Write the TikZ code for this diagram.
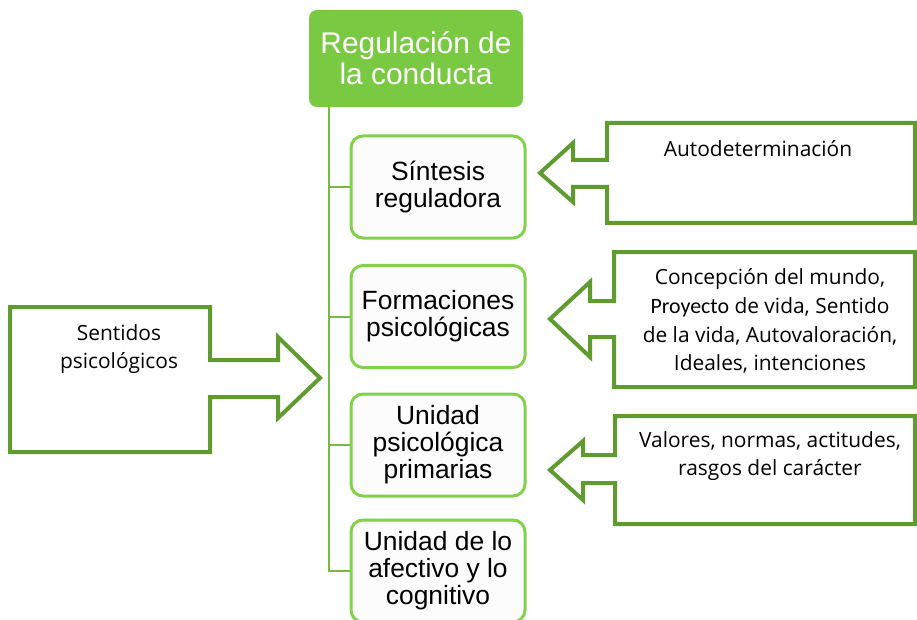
\documentclass[tikz,border=0pt]{standalone}
\usepackage{fontspec}
\setmainfont{Liberation Sans}
\newfontfamily\calloutfont{Open Sans}
\newfontfamily\proyectofont{Carlito}
\usepackage{xcolor}
\definecolor{headgreen}{HTML}{7AC943}
\definecolor{boxgreen}{HTML}{82D14B}
\definecolor{treegreen}{HTML}{78B845}
\definecolor{arrowgreen}{HTML}{5F9B2E}
\definecolor{boxfill}{HTML}{FCFCFC}

\tikzset{
  headbox/.style={fill=headgreen, draw=none, rounded corners=8bp, minimum width=214bp,
    minimum height=97bp, inner sep=0pt, align=center, text=white,
    font=\fontsize{30}{31}\selectfont},
  childbox/.style={fill=boxfill, draw=boxgreen, line width=3bp, rounded corners=12bp,
    minimum width=174bp, minimum height=102bp, inner sep=0pt, align=center,
    font=\fontsize{26.5}{27}\selectfont},
  branch/.style={treegreen, line width=2bp},
  callout/.style={draw=arrowgreen, line width=4bp, fill=white},
  callouttext/.style={align=center, anchor=north, inner sep=0pt,
    font=\calloutfont\fontsize{21}{29}\selectfont}
}

\begin{document}
\begin{tikzpicture}[x=1bp, y=-1bp]

  \useasboundingbox (0,0) rectangle (917,620);

  % ==================== 1. TREE ====================
  \node[headbox] (top) at (416,58.5) {Regulación de\\la conducta};

  \node[childbox] (box1) at (438,187) {Síntesis\\reguladora};
  \node[childbox] (box2) at (438,316.5) {Formaciones\\psicológicas};
  \node[childbox] (box3) at (438,445) {Unidad\\psicológica\\primarias};
  \node[childbox] (box4) at (438,571) {Unidad de lo\\afectivo y lo\\cognitivo};

  % Spine and branches
  \coordinate (spine) at ([xshift=20bp]top.south west);
  \foreach \b in {box1, box2, box3, box4} {
    \draw[branch] (spine) |- (\b.west);
  }

  % ==================== 2. CALLOUTS (RIGHT) ====================
  % Callout 1
  \draw[callout] (915,123) -- (607,123) -- (607,160) -- (573,160) -- (573,143)
    -- (540,173) -- (573,202) -- (573,187) -- (607,187) -- (607,223) -- (915,223) -- cycle;
  \node[callouttext] (auto) at (758,140) {Autodeterminación};

  % Callout 2
  \draw[callout] (915,252) -- (614,252) -- (614,301) -- (590,301) -- (590,282)
    -- (550,319) -- (590,357) -- (590,337) -- (614,337) -- (614,387) -- (915,387) -- cycle;
  \node[callouttext] (formas) at (770,268)
    {Concepción del mundo,\\{\proyectofont\fontsize{22}{29}\selectfont Proyecto} de vida, Sentido\\de la vida, Autovaloración,\\Ideales, intenciones};

  % Callout 3
  \draw[callout] (915,416) -- (615,416) -- (615,455) -- (583,455) -- (583,441)
    -- (550,470) -- (583,500) -- (583,483) -- (615,483) -- (615,524) -- (915,524) -- cycle;
  \node[callouttext] (valores) at (770,431)
    {Valores, normas, actitudes,\\rasgos del carácter};

  % ==================== 3. CALLOUT (LEFT) ====================
  \draw[callout] (10,307) -- (210,307) -- (210,360) -- (278,360) -- (278,337)
    -- (320,378) -- (278,418) -- (278,397) -- (210,397) -- (210,452) -- (10,452) -- cycle;
  \node[callouttext] (sentidos) at (119,324) {Sentidos\\psicológicos};

\end{tikzpicture}
\end{document}
